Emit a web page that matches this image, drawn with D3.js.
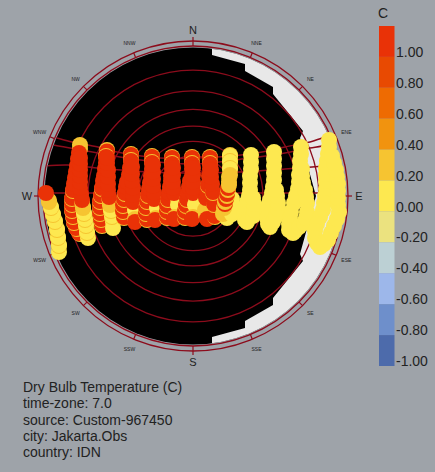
<!DOCTYPE html>
<html><head><meta charset="utf-8">
<script src="https://cdn.jsdelivr.net/npm/d3@7"></script>
<style>html,body{margin:0;padding:0;background:#9ea3a9}svg{display:block}text{font-family:"Liberation Sans",Arial,sans-serif;fill:#222}</style>
</head><body><svg id="c" width="435" height="472"></svg>
<script>
// sky-plane coordinates: x east, y north, unit circle radius = 150
const legendValues=[1,0.8,0.6,0.4,0.2,0,-0.2,-0.4,-0.6,-0.8,-1];
const legendLabels=["1.00","0.80","0.60","0.40","0.20","0.00","-0.20","-0.40","-0.60","-0.80","-1.00"];
const legendColors=["#e93207","#e84a02","#ee6b02","#f1930f","#f6c431","#fde850","#ebe27f","#bcd0d4","#9db7ea","#6e8fcb","#4d6bab"];
const altitudes=[0,10,20,30,40,50,60,70,80];
const directions=["N","NNE","NE","ENE","E","ESE","SE","SSE","S","SSW","SW","WSW","W","WNW","NW","NNW"];
const infoLines=["Dry Bulb Temperature (C)","time-zone: 7.0","source: Custom-967450","city: Jakarta.Obs","country: IDN"];
const shadeX=[19,170,170,19,19,52,52,80,80,110,107,123,107,110,80,80,52,52,19];
const shadeY=[160,160,-160,-160,-141,-132,-125,-109,-102,-65,-58,0,58,65,102,109,125,132,141];
const arcA=[[-153,62],[-140,59],[-121,54],[-95,49],[-76,44],[-33,38],[0,38],[37,40],[69,44],[92,49],[117,54],[129,58],[142,62]];
const arcB=[[-148,53],[-140,51],[-123,48],[-95,43],[-53,36],[0,32],[57,38],[92,43],[117,48],[129,50],[147,56]];
const arcC=[[-148,30],[-125,31],[-96,28],[-43,24],[0,23],[47,24],[92,27],[119,29],[134,30],[150,31]];
const arcD=[[-150,3],[-93,3],[0,3],[93,3],[124,3],[150,3]];
const hour06=[[-134,-56,0],[-134,-50,0.2],[-134,-49,0],[-135,-42,0.2],[-135,-41,0],[-136,-34,0.2],[-136,-33,0],[-138,-26,0.2],[-138,-25,0],[-140,-19,0.2],[-140,-18,0],[-142,-12,0.2],[-142,-11,0],[-144,-6,0.2],[-144,-4.5,0.2],[-147,3,1]];
const hour07=[[-113,51,0.2],[-113,47,0.2],[-114,43,1],[-115,37,1],[-116,30,1],[-117,24,1],[-118,18,1],
 [-113,-38,0.2],[-114,-37,1],[-116,-33,0.2],[-117,-32,1],[-119,-27,0.2],[-119,-26,1],[-120,-21,0.2],[-120,-20,1],[-121,-15,0.2],[-121,-14,1],[-121,-9,0.2],[-121,-8,1],[-121,-3,0.2],[-121,-2,1],[-120,5,0.2],[-120,6,1],[-119,12,1],
 [-105,-42,0],[-106,-37,0.2],[-106,-36,0],[-107,-30,0.2],[-107,-29,0],[-108,-24,0.2],[-108,-23,0],[-109,-18,0.2],[-109,-17,0],[-110,-12,0.2],[-110,-11,0.2],[-111,-6,0.2],[-111,-4,1],[-112,2,1],[-113,8,1],[-113,14,1],[-113,20,1],[-113,26,1],[-113,32,1],[-113,38,1]];
const hour08=[[-86,46,0.2],[-86,44.5,1],[-87,40,0.2],[-87,39,1],[-87,33,1],[-88,27,1],[-89,20,1],
 [-91,-30,0.2],[-91,-29,1],[-92,-24,0.2],[-92,-23,1],[-93,-18,0.2],[-93,-17,1],[-93,-12,0.2],[-93,-11,1],[-93,-6,0.2],[-93,-5,1],[-92,0,0.2],[-92,1,1],[-91,7,0.2],[-91,8,1],[-90,15,1],
 [-80,-32,0],[-80,-26,0],[-81,-21,0.2],[-81,-20,0],[-82,-15,0.2],[-82,-14,0],[-83,-9,0.2],[-83,-8,0.2],[-84,-2,0.2],[-84,-1,1],[-85,6,1],[-85,12,1],[-85,19,1],[-85,26,1],[-86,33,1],[-86,38,1]];
const hour09=[[-62,42,0.2],[-62,41,1],[-62,36,0.2],[-62,35,1],[-63,28,1],[-64,21,1],
 [-69,-22,0.2],[-69,-21,1],[-70,-16,0.2],[-70,-15,1],[-70,-10,0.2],[-70,-9,1],[-69,-4,0.2],[-69,-3,1],[-68,2,0.2],[-68,3,1],[-67,9,1],[-66,14,1],
 [-58,-14,0],[-58,-23,0.2],[-58,-26,1],[-60,-6,1],[-60,1,1],[-60,8,1],[-61,15,1],[-61,22,1],[-61,29,1]];
const hour10=[[-41,40,0.2],[-41,39,1],[-41,34,0.2],[-41,33,1],[-41,27,1],[-42,20,1],
 [-46,-24,0.2],[-46,-23,1],[-47,-18,0.2],[-47,-17,1],[-47,-12,0.2],[-47,-11,1],[-46,-6,0.2],[-46,-5,1],[-45,0,0.2],[-45,1,1],[-44,7,1],[-43,13,1],
 [-36,-12,0],[-37,-22,0.2],[-38,-24,1],[-39,-3,1],[-39,3,1],[-40,10,1],[-40,17,1],[-40,24,1],[-40,31,1]];
const hour11=[[-21,39,0.2],[-21,38,1],[-21,33,0.2],[-21,32,1],[-21,27,1],[-22,20,1],
 [-26,-22,0.2],[-26,-21,1],[-26,-16,0.2],[-26,-15,1],[-26,-10,0.2],[-26,-9,1],[-25,-4,0.2],[-25,-3,1],[-24,3,1],[-23,9,1],[-22,15,1],
 [-15,-3,0.2],[-15,-9,0],[-18,-21,0.2],[-19,-23,1],[-19,3,1],[-20,8,1],[-20,14,1],[-20,21,1],[-20,28,1]];
const hour12=[[-1,39,0.2],[-1,38,1],[-1,33,0.2],[-1,32,1],[-1,27,1],[-1,20,1],
 [-8,-22,0.2],[-8,-21,1],[-8,-16,0.2],[-8,-15,1],[-7,-10,0.2],[-7,-9,1],[-6,-4,0.2],[-6,-3,1],[-5,3,1],[-4,9,1],[-3,15,1],
 [3,-3,0.2],[2,-9,0],[0,-21,0.2],[-1,-23,1],[0,3,1],[0,8,1],[0,14,1],[0,21,1],[0,28,1]];
const hour13=[[17,39,0.2],[17,38,1],[17,33,0.2],[17,32,1],[17,27,1],[16,20,1],
 [11,-8,0],[12,-14,0.2],[13,-19,0.2],[14,-23,1],[13,-2,1],[14,4,1],[15,10,0.2],[15,11,1],
 [23,-15,0.2],[22,-21,0.2],[21.5,-20,1],[21,-9,0.2],[21,-8,1],[20,-2,1],[20,3,0.2],[20,4,1],[19,12,1],[18,19,1],[18,26,1]];
const hour14=[[37,41,0.2],[37,40,0],[37,35,0.2],[37,34,0],[37,28,0.2],[37,27,0],[37,21,0.2],[36,19,0.2],[36,14,0.2],
 [34,-22,0],[30,-18,0.2],[39,-18,0],[40,-10,0],[39,-3,0],[31,-12,0.2],[32,-8,1],[32,-6,0.2],[33,-3,1],[34,0,0.2],[34,2,1],[35,6,0.2],[35,8,1],[36,11,0.2]];
const hour15=[[58,41,0],[58,34,0],[58,27,0],[57,20,0],[57,13,0],[57,6,0],[56,0,0],[54,-6,0],[52,-12,0],[51,-18,0],[52,-24,0],[54,-26,0],[60,-20,0],[61,-14,0],[61,-8,0],[60,-2,0]];
const hour16=[[81,44,0],[81,37,0],[81,30,0],[81,23,0],[81,16,0],[80,9,0],[79,3,0],[77,-4,0],[75,-10,0],[74,-16,0],[74,-22,0],[75,-28,0],[77,-31,0],[80,-26,0],[83,-20,0],[85,-13,0],[85,-7,0],[84,0,0],[83,6,0]];
const hour17=[[108,49,0],[108,42,0],[107,35,0],[107,28,0],[106,21,0],[106,14,0],[105,7,0],[103,0,0],[101,-7,0],[98,-16,0],[97,-22,0],[96,-28,0],[96,-34,0],[100,-37,0],[102,-35,0],[106,-31,0],[111,-27,0],[113,-22,0],[114,-16,0],[114,-7,0],[113,-1,0],[112,6,0],[110,13,0],[109,20,0],[109,27,0]];
const hour18=[[136,56,0],[136,49,0],[135,42,0],[134,35,0],[133,28,0],[133,21,0],[133,14,0],[133,7,0],[132,0,0],[131,-7,0],[130,-14,0],[127,-21,0],[124,-28,0],[122,-35,0],[122,-42,0],[124,-47,0],[127,-51,0],[131,-48,0],[135,-44,0],[138,-37,0],[141,-30,0],[144,-23,0],[146,-16,0],[145,-9,0],[145,-2,0],[145,5,0],[145,12,0],[144,19,0],[143,26,0],[141,33,0],[139,40,0]];
const hours=[hour06,hour07,hour08,hour09,hour10,hour11,hour12,hour13,hour14,hour15,hour16,hour17,hour18];
const arcs=[arcA,arcB,arcC,arcD];

const svg=d3.select("#c");
const red="#8c0c1c";
const x=d3.scaleLinear().domain([-150,150]).range([43,343]);
const y=d3.scaleLinear().domain([-150,150]).range([346,46]);
const len=d3.scaleLinear().domain([0,150]).range([0,150]);
const altR=a=>len(150*Math.tan((90-a)/2*Math.PI/180));
const cx=x(0),cy=y(0);
const color=d3.scaleOrdinal().domain(legendValues).range(legendColors);

svg.append("rect").attr("width",435).attr("height",472).attr("fill","#9ea3a9");
svg.append("clipPath").attr("id","disc").append("circle").attr("cx",cx).attr("cy",cy).attr("r",len(148.5));
svg.append("circle").attr("cx",cx).attr("cy",cy).attr("r",len(148.5)).attr("fill","#000");
const poly=d3.line().x(d=>x(d[0])).y(d=>y(d[1]));
svg.append("path").attr("clip-path","url(#disc)").attr("fill","#e8e8e8")
  .attr("d",poly(shadeX.map((v,i)=>[v,shadeY[i]]))+"Z");

svg.append("g").selectAll("circle").data(altitudes).join("circle")
  .attr("cx",cx).attr("cy",cy).attr("r",altR).attr("fill","none").attr("stroke",red).attr("stroke-width",1.3);
svg.append("circle").attr("cx",cx).attr("cy",cy).attr("r",len(155)).attr("fill","none").attr("stroke",red).attr("stroke-width",1.3);

const arcLine=d3.line().x(d=>x(d[0])).y(d=>y(d[1])).curve(d3.curveCatmullRom);
svg.append("g").attr("clip-path","url(#disc)").selectAll("path").data(arcs).join("path")
  .attr("d",arcLine).attr("fill","none").attr("stroke",red).attr("stroke-width",1.5);

const dirAngle=d3.scalePoint().domain(directions.concat(["end"])).range([0,2*Math.PI]);
const major=d=>d.length===1;
svg.append("g").selectAll("line").data(directions).join("line")
  .attr("x1",d=>cx+len(150)*Math.sin(dirAngle(d))).attr("y1",d=>cy-len(150)*Math.cos(dirAngle(d)))
  .attr("x2",d=>cx+len(major(d)?159:155)*Math.sin(dirAngle(d))).attr("y2",d=>cy-len(major(d)?159:155)*Math.cos(dirAngle(d)))
  .attr("stroke",red).attr("stroke-width",1.2);
svg.append("g").selectAll("text").data(directions).join("text")
  .attr("x",d=>cx+len(166)*Math.sin(dirAngle(d))).attr("y",d=>cy-len(166)*Math.cos(dirAngle(d)))
  .attr("text-anchor","middle").attr("dominant-baseline","central")
  .attr("font-size",d=>major(d)?11:5).text(d=>d);

svg.append("g").selectAll("g").data(hours).join("g").selectAll("circle").data(d=>d).join("circle")
  .attr("cx",d=>x(d[0])).attr("cy",d=>y(d[1])).attr("r",len(8)).attr("fill",d=>color(d[2]));

const band=d3.scaleBand().domain(legendValues).range([26,366]);
svg.append("g").selectAll("rect").data(legendValues).join("rect")
  .attr("x",379).attr("y",d=>band(d)).attr("width",15.5).attr("height",band.bandwidth()).attr("fill",d=>color(d));
svg.append("g").selectAll("text").data(legendLabels).join("text")
  .attr("x",396).attr("y",(d,i)=>band(legendValues[i])+31).attr("font-size",14).text(d=>d);
svg.append("text").attr("x",378).attr("y",18).attr("font-size",14).text("C");
svg.append("g").selectAll("text").data(infoLines).join("text")
  .attr("x",23).attr("y",(d,i)=>392+i*16.25).attr("font-size",14).text(d=>d);
</script></body></html>
